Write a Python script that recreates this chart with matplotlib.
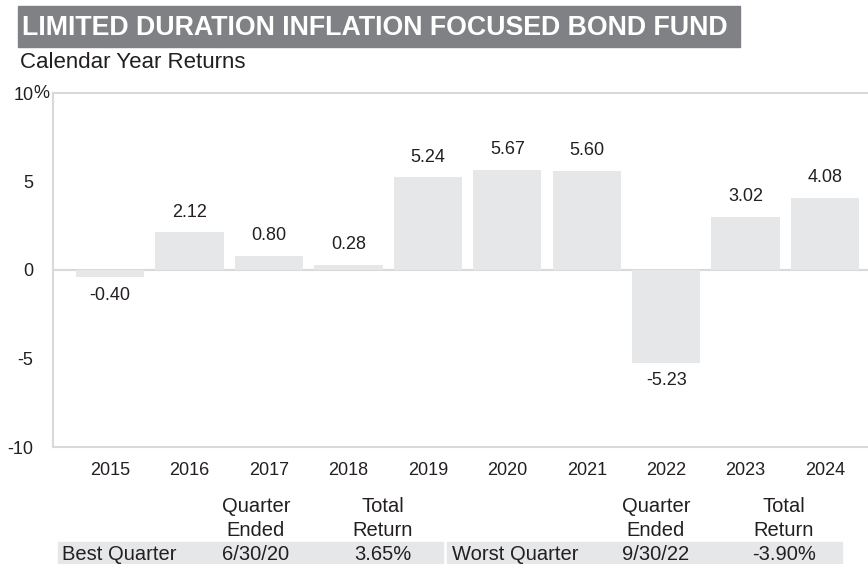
import matplotlib
matplotlib.use("Agg")
import matplotlib.pyplot as plt
from matplotlib.patches import Rectangle

plt.rcParams['font.family'] = ['Liberation Sans', 'DejaVu Sans']

years = ["2015", "2016", "2017", "2018", "2019", "2020", "2021", "2022", "2023", "2024"]
returns = [-0.40, 2.12, 0.80, 0.28, 5.24, 5.67, 5.60, -5.23, 3.02, 4.08]
yticks = [-10, -5, 0, 5, 10]
best_row = ["Best Quarter", "6/30/20", "3.65%"]
worst_row = ["Worst Quarter", "9/30/22", "-3.90%"]

W, H = 868, 564
TXT = "#231f20"
BAR = "#e6e7e8"
LINE = "#d9d9da"
FS = 13
TFS = 14.5

fig = plt.figure(figsize=(W / 100, H / 100), dpi=100)

def fx(px):
    return px / W

def fy(py):
    return 1 - py / H

# title banner
fig.patches.append(Rectangle((fx(18), fy(47)), fx(740) - fx(18), fy(6) - fy(47),
                             transform=fig.transFigure, color="#808184", zorder=0))
fig.text(fx(22), fy(28), "LIMITED DURATION INFLATION FOCUSED BOND FUND", color="white",
         fontsize=19.3, fontweight="bold", va="center", ha="left")
fig.text(fx(20), fy(63), "Calendar Year Returns", color=TXT, fontsize=16, va="center")

# chart
ax = fig.add_axes([fx(53), fy(447), 1 - fx(53) + 0.01, fy(93) - fy(447)])
x = list(range(len(years)))
ax.bar(x, returns, width=0.86, color=BAR, zorder=2)
ax.axhline(0, color=LINE, lw=1.5, zorder=1)
ax.set_xlim(-0.72, 9.65)
ax.set_ylim(-10, 10)
for s in ["left", "top", "bottom"]:
    ax.spines[s].set_color(LINE)
    ax.spines[s].set_linewidth(1.5)
ax.spines["right"].set_visible(False)
ax.set_yticks(yticks)
ax.set_yticklabels([str(v) for v in yticks])
ax.tick_params(axis="y", length=0, pad=14, labelsize=FS, labelcolor=TXT)
ax.set_xticks(x)
ax.set_xticklabels(years)
ax.tick_params(axis="x", length=0, pad=11, labelsize=FS, labelcolor=TXT)
fig.text(fx(33), fy(93), "%", fontsize=FS, color=TXT, ha="left", va="center")

for xi, v in zip(x, returns):
    off = 14.5 if v >= 0 else -13
    ax.annotate(f"{v:.2f}", (xi, v), xytext=(0, off), textcoords="offset points",
                ha="center", va="center", fontsize=FS, color=TXT)

# best / worst quarter table
fig.patches.append(Rectangle((fx(58), fy(564)), fx(443) - fx(58), fy(542) - fy(564),
                             transform=fig.transFigure, color=BAR, zorder=0))
fig.patches.append(Rectangle((fx(447), fy(564)), fx(842) - fx(447), fy(542) - fy(564),
                             transform=fig.transFigure, color=BAR, zorder=0))

for row, (x0, c1, c2) in [(best_row, (62, 256, 383)), (worst_row, (452, 656, 784))]:
    fig.text(fx(x0), fy(554), row[0], fontsize=TFS, color=TXT, va="center", ha="left")
    fig.text(fx(c1), fy(554), row[1], fontsize=TFS, color=TXT, va="center", ha="center")
    fig.text(fx(c2), fy(554), row[2], fontsize=TFS, color=TXT, va="center", ha="center")
    fig.text(fx(c1), fy(507), "Quarter", fontsize=TFS, color=TXT, va="center", ha="center")
    fig.text(fx(c1), fy(530), "Ended", fontsize=TFS, color=TXT, va="center", ha="center")
    fig.text(fx(c2), fy(507), "Total", fontsize=TFS, color=TXT, va="center", ha="center")
    fig.text(fx(c2), fy(530), "Return", fontsize=TFS, color=TXT, va="center", ha="center")

fig.savefig("out.png", dpi=100)
